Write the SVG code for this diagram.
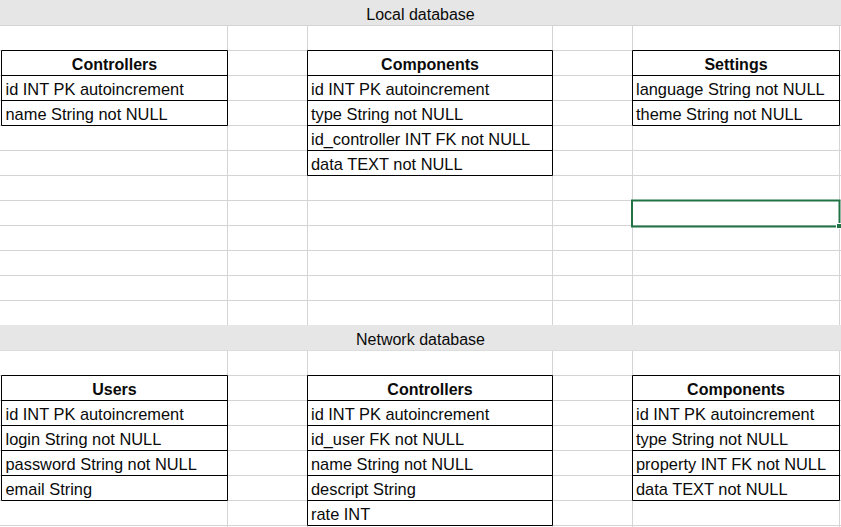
<svg xmlns="http://www.w3.org/2000/svg" width="841" height="527" viewBox="0 0 841 527">
<style>
.bg{fill:#ffffff}
.band{fill:#e6e6e6}
.grid{stroke:#d4d4d4;stroke-width:1;fill:none}
.tb{stroke:#000000;stroke-width:1;fill:none}
text{font-family:"Liberation Sans",Arial,sans-serif;font-size:16.4px;fill:#0a0a0a}
.h{font-weight:bold;text-anchor:middle;font-size:16px}
.c{text-anchor:middle;font-size:16px}
.sel{stroke:#217346;stroke-width:2;fill:none}
</style>
<rect class="bg" x="0" y="0" width="841" height="527"/>
<g id="grid">
<path class="grid" d="M0 25.5H841M0 50.5H841M0 75.5H841M0 100.5H841M0 125.5H841M0 150.5H841M0 175.5H841M0 200.5H841M0 225.5H841M0 250.5H841M0 275.5H841M0 300.5H841M0 350.5H841M0 375.5H841M0 400.5H841M0 425.5H841M0 450.5H841M0 475.5H841M0 500.5H841M0 525.5H841"/>
<path class="grid" d="M227.5 25V325M307.5 25V325M552.5 25V325M632.5 25V325M839.5 25V325M227.5 350V527M307.5 350V527M552.5 350V527M632.5 350V527M839.5 350V527"/>
</g>
<g id="band-local">
<rect class="band" x="0" y="0" width="841" height="25"/>
<text class="c" x="420.5" y="20">Local database</text>
</g>
<g id="band-network">
<rect class="band" x="0" y="325" width="841" height="25.5"/>
<text class="c" x="420.5" y="345">Network database</text>
</g>
<g id="local-controllers">
<path class="tb" d="M1.5 50.5H227.5V125.5H1.5ZM1.5 75.5H227.5M1.5 100.5H227.5"/>
<text class="h" x="114.5" y="70">Controllers</text>
<text x="5.5" y="95">id INT PK autoincrement</text>
<text x="5.5" y="120">name String not NULL</text>
</g>
<g id="local-components">
<path class="tb" d="M307.5 50.5H552.5V175.5H307.5ZM307.5 75.5H552.5M307.5 100.5H552.5M307.5 125.5H552.5M307.5 150.5H552.5"/>
<text class="h" x="430" y="70">Components</text>
<text x="311" y="95">id INT PK autoincrement</text>
<text x="311" y="120">type String not NULL</text>
<text x="311" y="145">id_controller INT FK not NULL</text>
<text x="311" y="170">data TEXT not NULL</text>
</g>
<g id="local-settings">
<path class="tb" d="M632.5 50.5H839.5V125.5H632.5ZM632.5 75.5H839.5M632.5 100.5H839.5"/>
<text class="h" x="736" y="70">Settings</text>
<text x="636" y="95">language String not NULL</text>
<text x="636" y="120">theme String not NULL</text>
</g>
<g id="selected-cell">
<rect class="sel" x="632" y="200.5" width="207.5" height="26"/>
<rect x="836.5" y="223.5" width="5" height="5" fill="#217346" stroke="#ffffff" stroke-width="1"/>
</g>
<g id="net-users">
<path class="tb" d="M1.5 375.5H227.5V500.5H1.5ZM1.5 400.5H227.5M1.5 425.5H227.5M1.5 450.5H227.5M1.5 475.5H227.5"/>
<text class="h" x="114.5" y="395">Users</text>
<text x="5.5" y="420">id INT PK autoincrement</text>
<text x="5.5" y="445">login String not NULL</text>
<text x="5.5" y="470">password String not NULL</text>
<text x="5.5" y="495">email String</text>
</g>
<g id="net-controllers">
<path class="tb" d="M307.5 375.5H552.5V525.5H307.5ZM307.5 400.5H552.5M307.5 425.5H552.5M307.5 450.5H552.5M307.5 475.5H552.5M307.5 500.5H552.5"/>
<text class="h" x="430" y="395">Controllers</text>
<text x="311" y="420">id INT PK autoincrement</text>
<text x="311" y="445">id_user FK not NULL</text>
<text x="311" y="470">name String not NULL</text>
<text x="311" y="495">descript String</text>
<text x="311" y="520">rate INT</text>
</g>
<g id="net-components">
<path class="tb" d="M632.5 375.5H839.5V500.5H632.5ZM632.5 400.5H839.5M632.5 425.5H839.5M632.5 450.5H839.5M632.5 475.5H839.5"/>
<text class="h" x="736" y="395">Components</text>
<text x="636" y="420">id INT PK autoincrement</text>
<text x="636" y="445">type String not NULL</text>
<text x="636" y="470">property INT FK not NULL</text>
<text x="636" y="495">data TEXT not NULL</text>
</g>
</svg>
